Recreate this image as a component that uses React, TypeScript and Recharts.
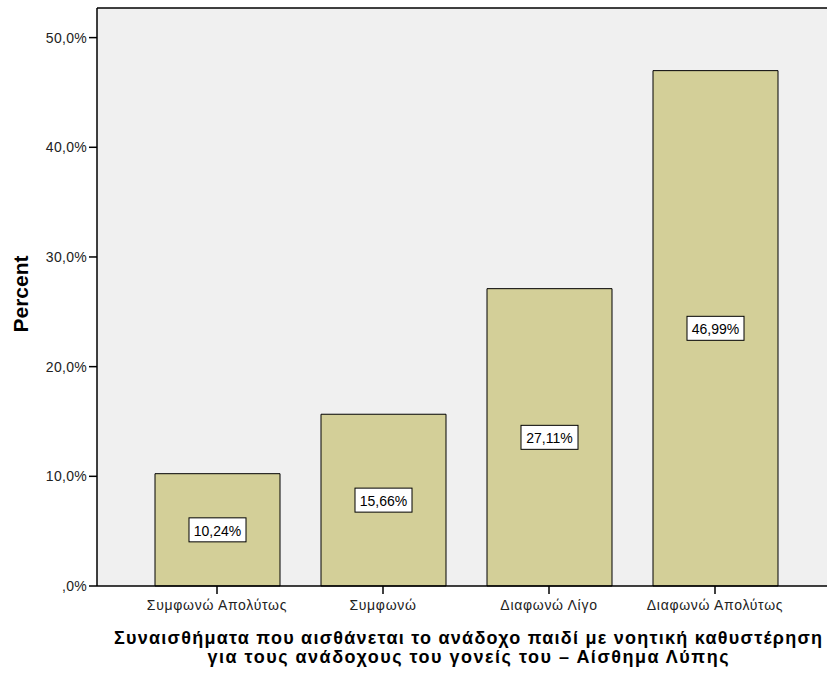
import React from "react";
import {
  BarChart,
  Bar,
  XAxis,
  YAxis,
  CartesianGrid,
  ReferenceLine,
  LabelList,
} from "recharts";

const categories = [
  "Συμφωνώ Απολύτως",
  "Συμφωνώ",
  "Διαφωνώ Λίγο",
  "Διαφωνώ Απολύτως",
];
const percents = [10.24, 15.66, 27.11, 46.99];
const yTicks = [0, 10, 20, 30, 40, 50];
const yMax = 52.7;
const xTitleLines = [
  "Συναισθήματα που αισθάνεται το ανάδοχο παιδί με νοητική καθυστέρηση",
  "για τους ανάδοχους του γονείς του – Αίσθημα Λύπης",
];
const yTitle = "Percent";

const data = categories.map((c, i) => ({ name: c, value: percents[i] }));

const FONT = "Arial, 'Liberation Sans', sans-serif";

const fmtTick = (v: number) =>
  v === 0 ? ",0%" : `${v.toFixed(1).replace(".", ",")}%`;
const fmtVal = (v: number) => `${v.toFixed(2).replace(".", ",")}%`;

const ValueLabel = (props: any) => {
  const { x, y, width, height, value } = props;
  const cx = x + width / 2;
  const cy = y + height / 2;
  const w = 57;
  const h = 24;
  return (
    <g>
      <rect
        x={cx - w / 2}
        y={cy - h / 2}
        width={w}
        height={h}
        fill="#ffffff"
        stroke="#000"
        strokeWidth={1}
      />
      <text
        x={cx}
        y={cy + 1}
        textAnchor="middle"
        dominantBaseline="central"
        fontFamily={FONT}
        fontSize={14}
        fill="#000"
      >
        {fmtVal(value)}
      </text>
    </g>
  );
};

const titleLengths = [708, 521];

export default function App() {
  return (
    <div style={{ position: "absolute", left: 0, top: 0 }}>
      <BarChart
        width={827}
        height={673}
        data={data}
        margin={{ top: 8, right: 0, left: 0, bottom: 0 }}
        barSize={125}
      >
        <CartesianGrid
          horizontal={false}
          vertical={false}
          fill="#f0f0f0"
          stroke="none"
        />
        <XAxis
          dataKey="name"
          height={87}
          padding={{ left: 37, right: 29 }}
          axisLine={{ stroke: "#000", strokeWidth: 1.5 }}
          tickLine={{ stroke: "#000", strokeWidth: 1.5 }}
          tickSize={8}
          tickMargin={6}
          tick={{
            fontFamily: FONT,
            fontSize: 14,
            fill: "#222",
            letterSpacing: 0.7,
          }}
          interval={0}
          label={(p: any) => {
            const vb = p.viewBox;
            const cx = 468;
            return (
              <g>
                {xTitleLines.map((l, i) => (
                  <text
                    key={i}
                    x={cx}
                    y={vb.y + 58 + i * 19}
                    textAnchor="middle"
                    fontFamily={FONT}
                    fontSize={18}
                    fontWeight="bold"
                    fill="#000"
                    textLength={titleLengths[i]}
                    lengthAdjust="spacing"
                  >
                    {l}
                  </text>
                ))}
              </g>
            );
          }}
        />
        <YAxis
          width={97}
          domain={[0, yMax]}
          ticks={yTicks}
          tickFormatter={fmtTick}
          axisLine={{ stroke: "#000", strokeWidth: 1.5 }}
          tickLine={{ stroke: "#000", strokeWidth: 1.5 }}
          tickSize={8}
          tick={{
            fontFamily: FONT,
            fontSize: 14,
            fill: "#222",
            letterSpacing: 0.3,
          }}
          label={() => {
            const cy = 294;
            return (
              <text
                x={28}
                y={cy}
                transform={`rotate(-90, 28, ${cy})`}
                textAnchor="middle"
                fontFamily={FONT}
                fontSize={21}
                fontWeight="bold"
                fill="#000"
              >
                {yTitle}
              </text>
            );
          }}
        />
        <ReferenceLine y={yMax} stroke="#000" strokeWidth={1.5} />
        <Bar
          dataKey="value"
          fill="#d3cf98"
          stroke="#000"
          strokeWidth={1}
          isAnimationActive={false}
        >
          <LabelList dataKey="value" content={ValueLabel} />
        </Bar>
      </BarChart>
    </div>
  );
}
